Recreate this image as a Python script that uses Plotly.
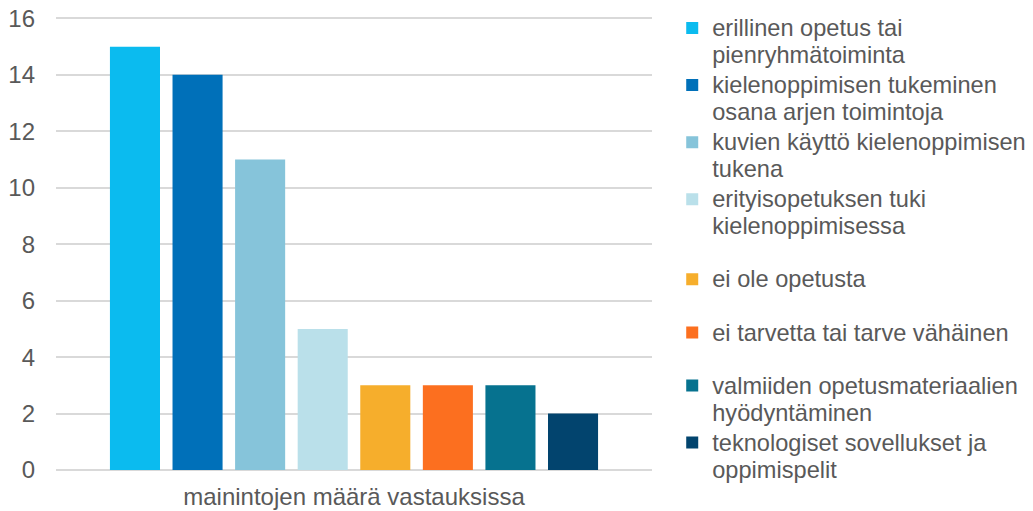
import plotly.graph_objects as go

category = "mainintojen määrä vastauksissa"

labels = [
    "erillinen opetus tai<br>pienryhmätoiminta",
    "kielenoppimisen tukeminen<br>osana arjen toimintoja",
    "kuvien käyttö kielenoppimisen<br>tukena",
    "erityisopetuksen tuki<br>kielenoppimisessa",
    "ei ole opetusta",
    "ei tarvetta tai tarve vähäinen",
    "valmiiden opetusmateriaalien<br>hyödyntäminen",
    "teknologiset sovellukset ja<br>oppimispelit",
]
values = [15, 14, 11, 5, 3, 3, 3, 2]

colors = ["#0BBBEF", "#0070B9", "#86C4DA", "#BAE0EA",
          "#F6AE2C", "#FC6F1F", "#06728F", "#02446E"]
# legend groups only used to space the single-line entries like the original
groups = ["a", "a", "a", "a", "b", "c", "d", "d"]

text_col = "#595959"
font_family = "Liberation Sans, Arial, sans-serif"
span = '<span style="font-size:23.6px">'

fig = go.Figure()
for lab, val, col, grp in zip(labels, values, colors, groups):
    # bigger text inside a smaller legend font keeps the tight line spacing
    fig.add_trace(go.Bar(
        x=[category],
        y=[val],
        name=span + lab.replace("<br>", "</span><br>" + span) + "</span>",
        marker_color=col,
        marker_line_width=0,
        legendgroup=grp,
    ))

# page body has an 8px margin, so margins are shifted by that
fig.update_layout(
    width=1033,
    height=511,
    margin=dict(l=48, r=389, t=9, b=49, autoexpand=False),
    paper_bgcolor="white",
    plot_bgcolor="white",
    barmode="group",
    bargap=0.16,
    bargroupgap=0.2,
    font=dict(family=font_family, size=24, color=text_col),
    showlegend=True,
    legend=dict(
        xref="container", yref="container",
        x=0.643, xanchor="left",
        y=1.0, yanchor="top",
        font=dict(size=20.8, color=text_col),
        traceorder="grouped",
        tracegroupgap=23,
        valign="top",
        itemwidth=30,
        maxheight=1,
        bgcolor="rgba(0,0,0,0)",
    ),
    xaxis=dict(
        showgrid=False,
        showline=False,
        ticks="",
        ticklabelstandoff=10,
        tickfont=dict(size=24, color=text_col),
    ),
    yaxis=dict(
        # a hair above 16 so the top gridline is not clipped at the edge
        range=[0, 16.05],
        tickvals=[0, 2, 4, 6, 8, 10, 12, 14, 16],
        showgrid=True,
        gridcolor="#D9D9D9",
        gridwidth=1.5,
        zeroline=True,
        zerolinecolor="#D9D9D9",
        zerolinewidth=1.5,
        showline=False,
        ticks="",
        ticklabelstandoff=20,
        ticklabeloverflow="allow",
        tickfont=dict(size=24, color=text_col),
    ),
)

fig.write_html("out.html")
